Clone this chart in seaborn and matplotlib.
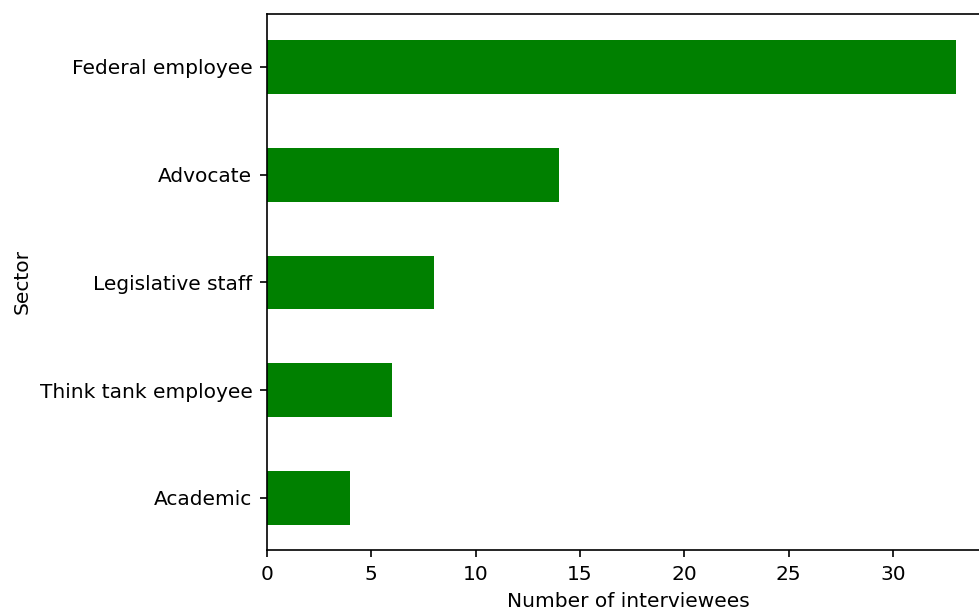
import pandas as pd
import numpy as np
import matplotlib
matplotlib.use('Agg')
import matplotlib.pyplot as plt
import seaborn as sns

# interviewees by sector (top to bottom as drawn)
sectors = ['Federal employee', 'Advocate', 'Legislative staff', 'Think tank employee', 'Academic']
counts = [33, 14, 8, 6, 4]

data = pd.DataFrame({'Sector': sectors, 'Number of interviewees': counts})

plt.rcParams['font.size'] = 9.65

fig = plt.figure(figsize=(979 / 150, 610 / 150), dpi=150)
ax = fig.add_axes([0.2727, 0.0984, 0.7385, 0.8787])

sns.barplot(data=data, x='Number of interviewees', y='Sector', order=sectors,
            orient='h', color='green', saturation=1, width=0.5, linewidth=0, ax=ax)

ax.set_xlim(0, 34.65)
ax.set_ylim(4.483, -0.492)
ax.set_xticks([0, 5, 10, 15, 20, 25, 30])

fig.savefig('out.png', dpi=150)
